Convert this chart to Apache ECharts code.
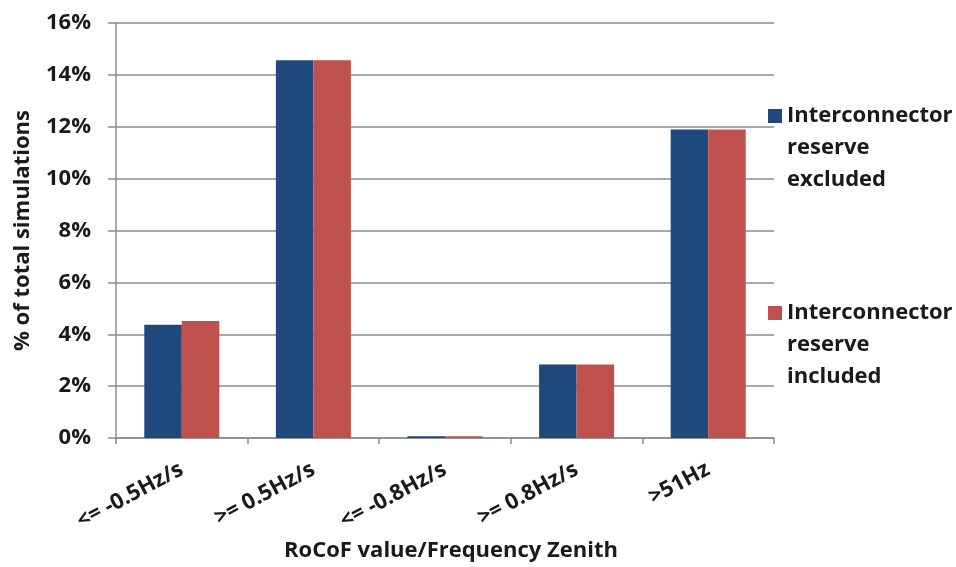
<!DOCTYPE html>
<html>
<head>
<meta charset="utf-8">
<script src="https://cdn.jsdelivr.net/npm/echarts@6/dist/echarts.min.js"></script>
<style>html,body{margin:0;padding:0;background:#fff}#c{width:956px;height:567px}</style>
</head>
<body>
<div id="c"></div>
<script>
const categories = ['<= -0.5Hz/s', '>= 0.5Hz/s', '<= -0.8Hz/s', '>= 0.8Hz/s', '>51Hz'];
const excluded = [4.37, 14.56, 0.07, 2.83, 11.89];
const included = [4.51, 14.56, 0.07, 2.83, 11.89];
const seriesNames = ['Interconnector reserve excluded', 'Interconnector reserve included'];
const yTicks = { min: 0, max: 16, interval: 2 };

const FONT = 'Open Sans';
const TXT = '#1a1a1a';
const chart = echarts.init(document.getElementById('c'));
chart.setOption({
  animation: false,
  backgroundColor: '#fff',
  textStyle: { fontFamily: FONT },
  grid: { left: 116, right: 182, top: 23, bottom: 129, containLabel: false, outerBoundsMode: 'none' },
  legend: {
    orient: 'vertical',
    left: 768,
    top: 36,
    padding: 0,
    itemGap: 37,
    itemWidth: 14,
    itemHeight: 14,
    icon: 'rect',
    selectedMode: false,
    formatter: name => '\n\n' + name.split(' ').join('\n'),
    textStyle: {
      fontFamily: FONT, fontWeight: 'bold', fontSize: 22, color: TXT, lineHeight: 32
    },
    data: seriesNames
  },
  xAxis: {
    type: 'category',
    data: categories,
    name: 'RoCoF value/Frequency Zenith',
    nameLocation: 'middle',
    nameGap: 102,
    nameTextStyle: { fontFamily: FONT, fontWeight: 'bold', fontSize: 22, color: TXT, padding: [0, 0, 0, 12] },
    axisLine: { lineStyle: { color: '#8c8c8c', width: 1.5 } },
    axisTick: { show: true, length: 6, lineStyle: { color: '#8c8c8c', width: 1.5 } },
    axisLabel: { rotate: 28, margin: 30, fontFamily: FONT, fontWeight: 'bold', fontSize: 22, color: TXT, interval: 0 }
  },
  yAxis: {
    type: 'value',
    min: yTicks.min, max: yTicks.max, interval: yTicks.interval,
    name: '% of total simulations',
    nameLocation: 'middle',
    nameGap: 82,
    nameTextStyle: { fontFamily: FONT, fontWeight: 'bold', fontSize: 22, color: TXT },
    axisLine: { show: true, lineStyle: { color: '#8c8c8c', width: 1.5 } },
    axisTick: { show: true, length: 8, lineStyle: { color: '#8c8c8c', width: 1.5 } },
    axisLabel: { margin: 25, formatter: v => v + '%', fontFamily: FONT, fontWeight: 'bold', fontSize: 22, color: TXT },
    splitLine: { lineStyle: { color: '#8c8c8c', width: 1.5 } }
  },
  series: [
    { name: seriesNames[0], type: 'bar', data: excluded, barGap: '0%', barCategoryGap: '43%', itemStyle: { color: '#1F497D' } },
    { name: seriesNames[1], type: 'bar', data: included, barGap: '0%', barCategoryGap: '43%', itemStyle: { color: '#C0504D' } }
  ]
});
</script>
</body>
</html>
